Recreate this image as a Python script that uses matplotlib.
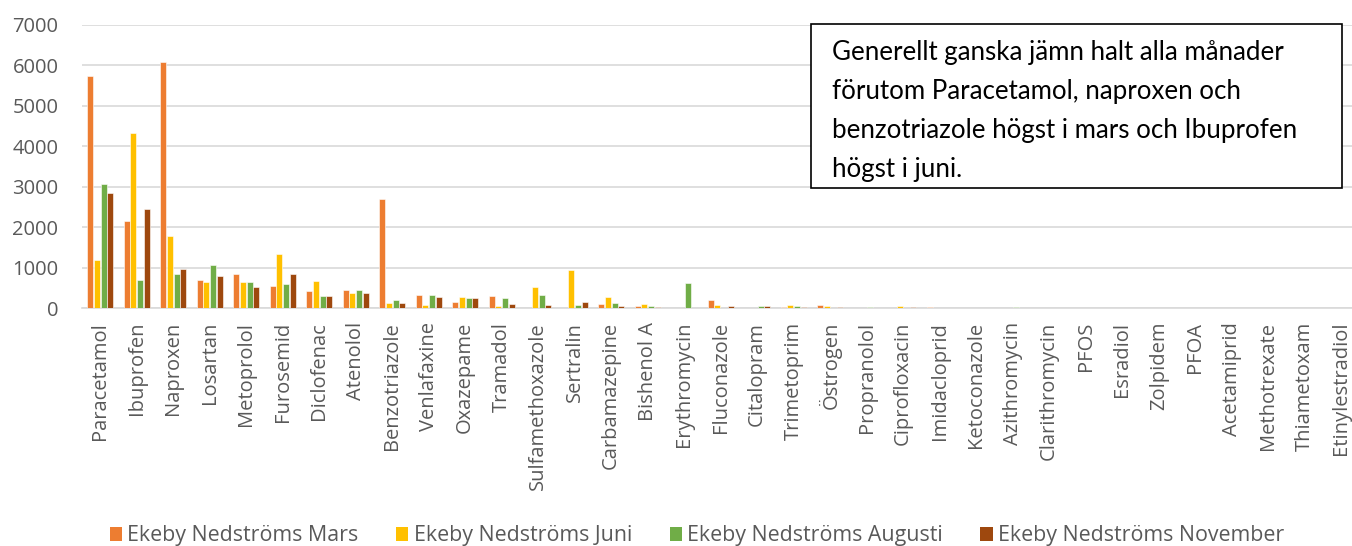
import numpy as np
import matplotlib
matplotlib.use("Agg")
from matplotlib import pyplot as plt
from matplotlib.patches import Patch

plt.rcParams["font.family"] = ["Open Sans", "DejaVu Sans"]

categories = [
    "Paracetamol", "Ibuprofen", "Naproxen", "Losartan", "Metoprolol", "Furosemid",
    "Diclofenac", "Atenolol", "Benzotriazole", "Venlafaxine", "Oxazepame", "Tramadol",
    "Sulfamethoxazole", "Sertralin", "Carbamazepine", "Bishenol A", "Erythromycin",
    "Fluconazole", "Citalopram", "Trimetoprim", "Östrogen", "Propranolol",
    "Ciprofloxacin", "Imidacloprid", "Ketoconazole", "Azithromycin", "Clarithromycin",
    "PFOS", "Esradiol", "Zolpidem", "PFOA", "Acetamiprid", "Methotrexate",
    "Thiametoxam", "Etinylestradiol",
]

mars = [5744, 2157, 6083, 702, 835, 537, 430, 455, 2684, 323, 157, 298,
        0, 0, 108, 58, 0, 208, 0, 33, 83, 0, 0, 33, 0, 0, 0, 0, 0, 0, 0, 0, 0, 0, 0]
juni = [1198, 4322, 1777, 653, 645, 1331, 678, 364, 116, 66, 273, 58,
        514, 928, 282, 91, 0, 67, 0, 83, 42, 0, 58, 0, 0, 0, 0, 0, 0, 0, 0, 0, 0, 0, 0]
augusti = [3074, 686, 851, 1074, 645, 603, 298, 455, 190, 331, 257, 240,
           315, 83, 116, 58, 625, 0, 58, 58, 0, 33, 0, 0, 0, 33, 0, 0, 0, 0, 0, 0, 0, 0, 0]
november = [2835, 2446, 959, 802, 512, 835, 306, 380, 133, 265, 257, 108,
            66, 141, 58, 33, 0, 58, 58, 33, 33, 0, 33, 0, 0, 0, 0, 0, 0, 0, 0, 0, 0, 0, 0]

series = [
    ("Ekeby Nedströms Mars", mars, "#ED7D31"),
    ("Ekeby Nedströms Juni", juni, "#FFC000"),
    ("Ekeby Nedströms Augusti", augusti, "#70AD47"),
    ("Ekeby Nedströms November", november, "#9E480E"),
]

note = ("Generellt ganska jämn halt alla månader\n"
        "förutom Paracetamol, naproxen och\n"
        "benzotriazole högst i mars och Ibuprofen\n"
        "högst i juni.")

W, H = 1352, 546
fig = plt.figure(figsize=(W / 100, H / 100), dpi=100)
ax = fig.add_axes([82 / W, (H - 308) / H, (W - 82) / W, (308 - 25) / H])

x = np.arange(len(categories))
step = 0.183
for i, (name, vals, color) in enumerate(series):
    ax.bar(x + (i - 1.5) * step, vals, width=0.16, color=color,
           edgecolor="white", linewidth=0.4, zorder=3)

ax.set_ylim(0, 7000)
ax.set_xlim(-0.5, -0.5 + (W - 82) / 36.5)
ax.set_yticks(range(0, 7001, 1000))
ax.grid(axis="y", color="#D9D9D9", linewidth=1.2, zorder=0)
for s in ["top", "right", "left"]:
    ax.spines[s].set_visible(False)
ax.spines["bottom"].set_color("#D9D9D9")
ax.spines["bottom"].set_linewidth(1.2)
ax.tick_params(length=0, colors="#595959", labelsize=14.5)
ax.tick_params(axis="y", pad=17)
ax.set_xticks(x)
ax.set_xticklabels(categories, rotation=90, va="top", ha="center")
ax.tick_params(axis="x", pad=10)

# textbox with the comment
box = plt.Rectangle((811 / W, 1 - 188 / H), (1342 - 811) / W, (188 - 24) / H,
                    transform=fig.transFigure, facecolor="white", edgecolor="black",
                    linewidth=1.2, zorder=5)
fig.patches.append(box)
fig.text(832 / W, 1 - 40 / H, note, ha="left", va="top", fontsize=18.6,
         family=["Lato", "DejaVu Sans"], color="black", linespacing=1.70, zorder=6)

handles = [Patch(facecolor=c, edgecolor="none") for _, _, c in series]
labels = [n for n, _, _ in series]
fig.legend(handles, labels, loc="center", ncol=4, frameon=False,
           bbox_to_anchor=(697 / W, 1 - 536 / H), fontsize=15.4,
           labelcolor="#595959", handlelength=0.58, handleheight=0.58,
           handletextpad=0.25, columnspacing=1.75)

fig.savefig("out.png", dpi=100)
